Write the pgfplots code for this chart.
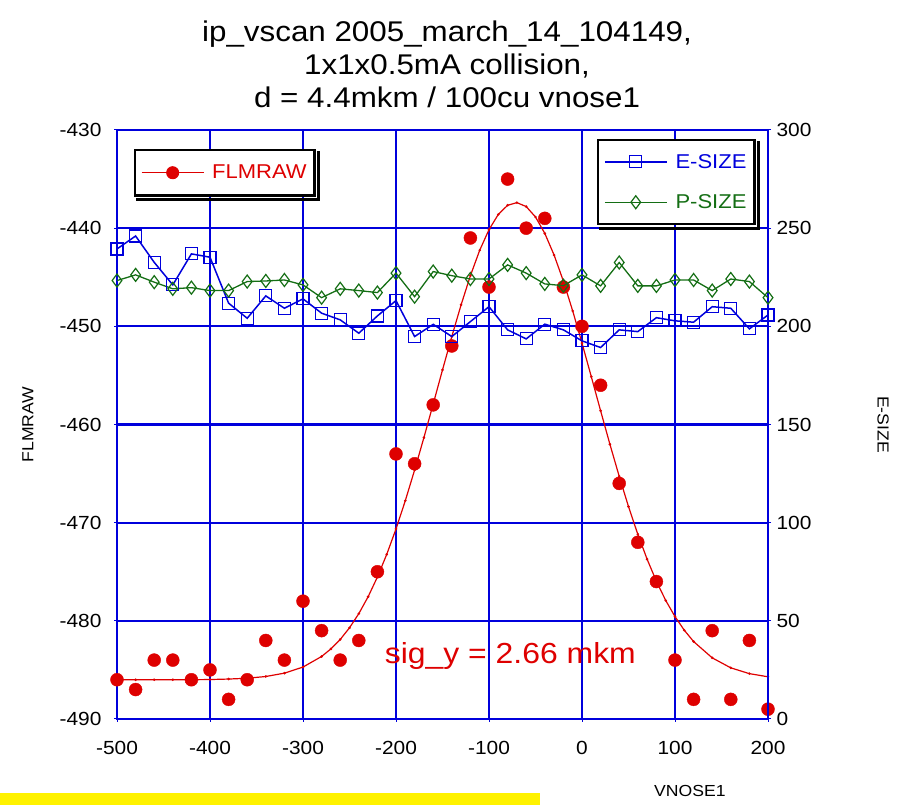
\documentclass[border=0pt]{standalone}
\usepackage{fontspec}
\setmainfont[FakeStretch=1.1]{Liberation Sans}
\usepackage{pgfplots}
\pgfplotsset{compat=1.18}
\definecolor{gridblue}{RGB}{0,0,220}
\definecolor{fitred}{RGB}{222,0,0}
\definecolor{pgreen}{RGB}{20,110,20}
\begin{document}
\begin{tikzpicture}
\useasboundingbox (0,0) rectangle (899pt,805pt);
\fill[yellow] (0,0) rectangle (540pt,12pt);
\pgfplotsset{
  legend image code/.code={\draw[mark repeat=2,mark phase=2,#1] plot coordinates {(0pt,0pt) (31pt,0pt) (62pt,0pt)};},
}
\begin{axis}[
  at={(117pt,86pt)}, anchor=south west,
  scale only axis, width=651pt, height=589pt,
  xmin=-500, xmax=200, ymin=-490, ymax=-430,
  xtick={-500,-400,...,200}, ytick={-490,-480,...,-430},
  xtick pos=bottom, ytick pos=left,
  grid=major, grid style={gridblue, line width=2.2pt},
  axis line style={gridblue, line width=2.2pt},
  tick style={gridblue, line width=1pt}, major tick length=6pt, tick align=center,
  ticklabel style={font=\fontsize{19}{22}\selectfont},
  /pgf/number format/assume math mode=true,
  yticklabel style={xshift=-9pt},
  xticklabel style={yshift=-16pt},
  ylabel={FLMRAW}, ylabel style={at={(axis description cs:-0.137,0.5)}, anchor=center, font=\fontsize{16}{19}\selectfont},
  xlabel={VNOSE1}, xlabel style={at={(axis description cs:0.880,-0.123)}, anchor=center, font=\fontsize{16}{19}\selectfont},
  title={ip\_vscan 2005\_march\_14\_104149,\\1x1x0.5mA collision,\\d = 4.4mkm / 100cu vnose1},
  title style={at={(axis description cs:0.507,1)}, anchor=south, yshift=13pt, align=center, font=\fontsize{28.5}{33}\selectfont},
  legend style={name=leg1, at={(0.026,0.968)}, anchor=north west, draw=black, line width=2.5pt, fill=white,
    font=\fontsize{20}{24}\selectfont, inner xsep=6pt, inner ysep=13pt,
    /tikz/every odd column/.append style={column sep=6pt}},
  legend cell align=left,
]
\addlegendimage{fitred, line width=1pt, mark=*, mark size=6pt, mark options={solid}}
\addlegendentry{\textcolor{fitred}{FLMRAW}}
% fitted gaussian curve
\addplot[fitred, line width=1.2pt, mark=*, mark size=0.6pt, forget plot] coordinates {
(-500,-486.0) (-480,-486.0) (-460,-486.0) (-440,-486.0) (-420,-486.0) (-400,-485.98)
(-380,-485.93) (-360,-485.85) (-340,-485.67) (-320,-485.33) (-300,-484.71) (-280,-483.63)
(-270,-482.86) (-260,-481.90) (-250,-480.71) (-240,-479.27) (-230,-477.55) (-220,-475.54)
(-210,-473.24) (-200,-470.64) (-190,-467.76) (-180,-464.64) (-170,-461.34) (-160,-457.91)
(-150,-454.44) (-140,-451.04) (-130,-447.81) (-120,-444.84) (-110,-442.25) (-100,-440.15)
(-90,-438.60) (-80,-437.67) (-70,-437.40) (-60,-437.80) (-50,-438.86) (-40,-440.53)
(-30,-442.74) (-20,-445.40) (-10,-448.43) (0,-451.71) (10,-455.13) (20,-458.60)
(30,-462.01) (40,-465.28) (50,-468.36) (60,-471.18) (70,-473.72) (80,-475.97)
(90,-477.92) (100,-479.57) (110,-480.96) (120,-482.11) (140,-483.77) (160,-484.79)
(180,-485.38) (200,-485.70)
};
% measured data
\addplot[only marks, mark=*, mark size=6.5pt, fitred, forget plot] coordinates {
(-500,-486) (-480,-487) (-460,-484) (-440,-484) (-420,-486) (-400,-485)
(-380,-488) (-360,-486) (-340,-482) (-320,-484) (-300,-478) (-280,-481)
(-260,-484) (-240,-482) (-220,-475) (-200,-463) (-180,-464) (-160,-458)
(-140,-452) (-120,-441) (-100,-446) (-80,-435) (-60,-440) (-40,-439)
(-20,-446) (0,-450) (20,-456) (40,-466) (60,-472) (80,-476)
(100,-484) (120,-488) (140,-481) (160,-488) (180,-482) (200,-489)
};
\node[text=fitred, font=\fontsize{29}{35}\selectfont, anchor=center] at (axis cs:-77,-483.6) {sig\_y = 2.66 mkm};
\end{axis}
\begin{axis}[
  at={(117pt,86pt)}, anchor=south west,
  scale only axis, width=651pt, height=589pt,
  xmin=-500, xmax=200, ymin=0, ymax=300,
  axis x line=none, axis y line*=right,
  ytick={0,50,...,300},
  axis line style={gridblue, line width=2.2pt, -},
  tick style={gridblue, line width=1pt}, major tick length=6pt, tick align=center,
  ticklabel style={font=\fontsize{19}{22}\selectfont},
  /pgf/number format/assume math mode=true,
  yticklabel style={xshift=2pt},
  ylabel={E-SIZE}, ylabel style={at={(axis description cs:1.177,0.5)}, anchor=center, rotate=180, font=\fontsize{16}{19}\selectfont},
  legend style={name=leg2, at={(0.737,0.985)}, anchor=north west, draw=black, line width=2.5pt, fill=white,
    font=\fontsize{20}{24}\selectfont, inner xsep=6pt, inner ysep=12pt, row sep=21pt,
    /tikz/every odd column/.append style={column sep=6pt}},
  legend cell align=left,
]
\addplot[gridblue, line width=1.5pt, mark=square, mark size=6pt, mark options={solid, fill=none, line width=1.2pt}] coordinates {
(-500,239.4) (-480,246.0) (-460,232.6) (-440,221.1) (-420,236.9) (-400,235.2)
(-380,211.8) (-360,204.1) (-340,215.5) (-320,209.2) (-300,214.0) (-280,206.7)
(-260,203.3) (-240,196.5) (-220,205.3) (-200,213.1) (-180,194.8) (-160,201.0)
(-140,194.8) (-120,202.4) (-100,210.0) (-80,198.2) (-60,193.6) (-40,201.1)
(-20,198.2) (0,192.6) (20,189.2) (40,198.2) (60,197.3) (80,204.4)
(100,202.8) (120,202.1) (140,210.0) (160,209.2) (180,198.7) (200,205.8)
};
\addlegendentry{\textcolor{gridblue}{E-SIZE}}
\addplot[pgreen, line width=1.3pt, mark=diamond, mark size=6.5pt, mark options={solid, fill=none, line width=1.2pt}] coordinates {
(-500,223.3) (-480,226.2) (-460,222.5) (-440,219.1) (-420,219.7) (-400,218.2)
(-380,218.2) (-360,222.8) (-340,223.1) (-320,223.6) (-300,221.1) (-280,214.6)
(-260,219.1) (-240,218.2) (-220,217.2) (-200,227.1) (-180,215.1) (-160,227.9)
(-140,225.8) (-120,224.1) (-100,224.1) (-80,231.3) (-60,227.1) (-40,221.6)
(-20,220.7) (0,226.2) (20,220.6) (40,232.5) (60,220.6) (80,220.6)
(100,223.6) (120,223.6) (140,218.2) (160,224.1) (180,222.8) (200,214.6)
};
\addlegendentry{\textcolor{pgreen}{P-SIZE}}
\end{axis}
\foreach \L in {leg1,leg2}{
  \fill[black] ([shift={(1.25pt,-2.5pt)}]\L.north east) rectangle ([shift={(4.5pt,-4.5pt)}]\L.south east);
  \fill[black] ([shift={(2.5pt,-1.25pt)}]\L.south west) rectangle ([shift={(4.5pt,-4.5pt)}]\L.south east);
}
\end{tikzpicture}
\end{document}
